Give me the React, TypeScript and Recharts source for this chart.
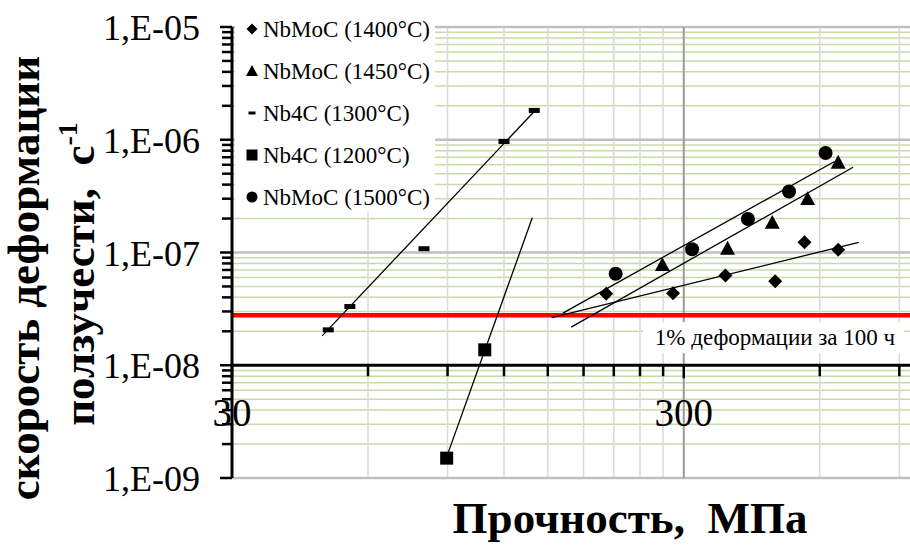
import React from 'react';
import { ScatterChart, Scatter, XAxis, YAxis, ReferenceLine, Legend } from 'recharts';

const SERIF = "'Liberation Serif', 'Times New Roman', Times, serif";

// ---- data ----
const nbmoc1400 = [
  { x: 202, y: 4.3e-8 },
  { x: 284, y: 4.36e-8 },
  { x: 371, y: 6.25e-8 },
  { x: 478, y: 5.57e-8 },
  { x: 555, y: 1.23e-7 },
  { x: 659, y: 1.06e-7 },
];
const nbmoc1450 = [
  { x: 269, y: 7.8e-8 },
  { x: 375, y: 1.09e-7 },
  { x: 471, y: 1.85e-7 },
  { x: 564, y: 3.0e-7 },
  { x: 659, y: 6.3e-7 },
];
const nb4c1300 = [
  { x: 49, y: 2.06e-8 },
  { x: 54.7, y: 3.32e-8 },
  { x: 79.8, y: 1.08e-7 },
  { x: 120, y: 9.66e-7 },
  { x: 140, y: 1.82e-6 },
];
const nb4c1200 = [
  { x: 89.6, y: 1.5e-9 },
  { x: 108.8, y: 1.37e-8 },
];
const nbmoc1500 = [
  { x: 212, y: 6.47e-8 },
  { x: 313, y: 1.07e-7 },
  { x: 416, y: 1.98e-7 },
  { x: 513, y: 3.48e-7 },
  { x: 618, y: 7.62e-7 },
];

// trend line end points
const fit1400 = [{ x: 153, y: 2.65e-8 }, { x: 732, y: 1.23e-7 }];
const fit1450 = [{ x: 169, y: 2.18e-8 }, { x: 711, y: 5.7e-7 }];
const fit1300 = [{ x: 47.5, y: 1.82e-8 }, { x: 140.5, y: 1.81e-6 }];
const fit1200 = [{ x: 89.4, y: 1.5e-9 }, { x: 138.6, y: 2.03e-7 }];
const fit1500 = [{ x: 162, y: 2.9e-8 }, { x: 647, y: 6.42e-7 }];

const LIMIT_RATE = 2.78e-8;
const LIMIT_TEXT = '1% деформации за 100 ч';

// ---- axes ----
const X_DOMAIN = [30, 1000];
const Y_DOMAIN = [1e-9, 1e-5];
const X_MAJOR = [30, 300];
const X_MAJOR_LABELS = ['30', '300'];
const X_MINOR = [60, 90, 120, 150, 180, 210, 240, 270, 600, 900];
const Y_MAJOR = [1e-9, 1e-8, 1e-7, 1e-6, 1e-5];
const Y_MAJOR_LABELS = ['1,E-09', '1,E-08', '1,E-07', '1,E-06', '1,E-05'];
const Y_MINOR = [
  2e-9, 3e-9, 4e-9, 5e-9, 6e-9, 7e-9, 8e-9, 9e-9,
  2e-8, 3e-8, 4e-8, 5e-8, 6e-8, 7e-8, 8e-8, 9e-8,
  2e-7, 3e-7, 4e-7, 5e-7, 6e-7, 7e-7, 8e-7, 9e-7,
  2e-6, 3e-6, 4e-6, 5e-6, 6e-6, 7e-6, 8e-6, 9e-6,
];
const X_CROSS = 1e-8; // horizontal axis crosses here

const X_TITLE = 'Прочность,  МПа';
const Y_TITLE_1 = 'скорость деформации';
const Y_TITLE_2 = 'ползучести,  с';
const Y_TITLE_SUP = '-1';

// ---- layout ----
const CHART_W = 920;
const CHART_H = 546;
const MARGIN = { top: 27, right: 0, bottom: 0, left: 0 };
const XAXIS_H = 68;
const YAXIS_W = 232;
const PLOT_H = CHART_H - MARGIN.top - MARGIN.bottom - XAXIS_H;
const CROSS_SHIFT =
  (PLOT_H * (Math.log10(X_CROSS) - Math.log10(Y_DOMAIN[0]))) /
  (Math.log10(Y_DOMAIN[1]) - Math.log10(Y_DOMAIN[0]));

const X_TICKS = [...X_MAJOR, ...X_MINOR].sort((a, b) => a - b);
const Y_TICKS = [...Y_MAJOR, ...Y_MINOR].sort((a, b) => a - b);

// ---- markers ----
const Diamond = ({ cx, cy, s = 7 }: any) => (
  <polygon points={`${cx},${cy - s} ${cx + s},${cy} ${cx},${cy + s} ${cx - s},${cy}`} fill="#000" />
);
const Triangle = ({ cx, cy, s = 7.5 }: any) => (
  <polygon points={`${cx},${cy - s} ${cx + s},${cy + s * 0.85} ${cx - s},${cy + s * 0.85}`} fill="#000" />
);
const Dash = ({ cx, cy, w = 11, h = 5 }: any) => (
  <rect x={cx - w / 2} y={cy - h / 2} width={w} height={h} fill="#000" />
);
const Square = ({ cx, cy, s = 13 }: any) => (
  <rect x={cx - s / 2} y={cy - s / 2} width={s} height={s} fill="#000" />
);
const Circle = ({ cx, cy, r = 7 }: any) => <circle cx={cx} cy={cy} r={r} fill="#000" />;
const Empty = () => <g />;

const SERIES = [
  { name: 'NbMoC (1400°C)', data: nbmoc1400, fit: fit1400, Marker: Diamond, lp: { s: 5.5 } },
  { name: 'NbMoC (1450°C)', data: nbmoc1450, fit: fit1450, Marker: Triangle, lp: { s: 6 } },
  { name: 'Nb4C (1300°C)', data: nb4c1300, fit: fit1300, Marker: Dash, lp: { w: 7, h: 3 } },
  { name: 'Nb4C (1200°C)', data: nb4c1200, fit: fit1200, Marker: Square, lp: { s: 11 } },
  { name: 'NbMoC (1500°C)', data: nbmoc1500, fit: fit1500, Marker: Circle, lp: { r: 5.5 } },
];

// ---- ticks ----
const XTick = (props: any) => {
  const { x, y, payload } = props;
  const ay = y - CROSS_SHIFT;
  const idx = X_MAJOR.indexOf(payload.value);
  const major = idx >= 0;
  return (
    <g>
      <line x1={x} x2={x} y1={ay} y2={ay + (major ? 13 : 11)} stroke="#000" strokeWidth={2.5} />
      {major && (
        <text x={x} y={ay + 47} textAnchor="middle" dominantBaseline="central" fontFamily={SERIF} fontSize={39} fill="#000">
          {X_MAJOR_LABELS[idx]}
        </text>
      )}
    </g>
  );
};

const YTick = (props: any) => {
  const { x, y, payload } = props;
  const idx = Y_MAJOR.indexOf(payload.value);
  const major = idx >= 0;
  return (
    <g>
      <line x1={x - (major ? 12 : 10)} x2={x} y1={y} y2={y} stroke="#000" strokeWidth={2.5} />
      {major && (
        <text x={x - 32} y={y + 1} textAnchor="end" dominantBaseline="central" fontFamily={SERIF} fontSize={36} fill="#000">
          {Y_MAJOR_LABELS[idx]}
        </text>
      )}
    </g>
  );
};

const YTitle = () => (
  <g>
    <text transform="translate(39,278) rotate(-90)" textAnchor="middle" fontFamily={SERIF} fontWeight="bold" fontSize={45} fill="#000" style={{ whiteSpace: 'pre' }}>
      {Y_TITLE_1}
    </text>
    <text transform="translate(94,274) rotate(-90)" textAnchor="middle" fontFamily={SERIF} fontWeight="bold" fontSize={45} fill="#000" style={{ whiteSpace: 'pre' }}>
      {Y_TITLE_2}
      <tspan dy={-17} fontSize={28}>{Y_TITLE_SUP}</tspan>
    </text>
  </g>
);

const XTitle = () => (
  <text x={630} y={533} textAnchor="middle" fontFamily={SERIF} fontWeight="bold" fontSize={45} fill="#000" style={{ whiteSpace: 'pre' }}>
    {X_TITLE}
  </text>
);

const LimitLabel = (props: any) => {
  const vb = props.viewBox || {};
  const x0 = vb.x ?? 232;
  const y0 = vb.y ?? 315;
  return (
    <g>
      <rect x={x0 + 411} y={y0 + 7} width={261} height={31} fill="#fff" />
      <text x={x0 + 543} y={y0 + 22} textAnchor="middle" dominantBaseline="central" fontFamily={SERIF} fontSize={23} fill="#000">
        {LIMIT_TEXT}
      </text>
    </g>
  );
};

const LegendBox = () => (
  <svg width={200} height={204} style={{ display: 'block' }}>
    {SERIES.map((s, i) => {
      const cy = 21 + i * 42;
      const M = s.Marker;
      return (
        <g key={s.name}>
          <M cx={17} cy={cy} {...s.lp} />
          <text x={28} y={cy} dominantBaseline="central" fontFamily={SERIF} fontSize={23} fill="#000">
            {s.name}
          </text>
        </g>
      );
    })}
  </svg>
);

export default function App() {
  return (
    <div style={{ position: 'absolute', left: 0, top: 0, width: 910, height: 546, overflow: 'hidden', background: '#fff' }}>
      <ScatterChart width={CHART_W} height={CHART_H} margin={MARGIN}>
        <XAxis
          type="number"
          dataKey="x"
          scale="log"
          domain={X_DOMAIN}
          allowDataOverflow
          ticks={X_TICKS}
          interval={0}
          height={XAXIS_H}
          axisLine={false}
          tickLine={false}
          tickSize={0}
          tickMargin={0}
          tick={<XTick />}
          label={<XTitle />}
        />
        <YAxis
          type="number"
          dataKey="y"
          scale="log"
          domain={Y_DOMAIN}
          allowDataOverflow
          ticks={Y_TICKS}
          interval={0}
          width={YAXIS_W}
          axisLine={{ stroke: '#000', strokeWidth: 3 }}
          tickLine={false}
          tickSize={0}
          tickMargin={0}
          tick={<YTick />}
          label={<YTitle />}
        />
        {Y_MINOR.map((v) => (
          <ReferenceLine key={`ym${v}`} y={v} stroke="#c9dba6" strokeWidth={1.5} zIndex={-90} />
        ))}
        {X_MINOR.map((v) => (
          <ReferenceLine key={`xm${v}`} x={v} stroke="#dadada" strokeWidth={1.5} zIndex={-90} />
        ))}
        {Y_MAJOR.filter((v) => v !== X_CROSS).map((v) => (
          <ReferenceLine key={`yM${v}`} y={v} stroke="#c0c0c0" strokeWidth={2.5} zIndex={-85} />
        ))}
        {X_MAJOR.filter((v) => v !== X_DOMAIN[0]).map((v) => (
          <ReferenceLine key={`xM${v}`} x={v} stroke="#9a9a9a" strokeWidth={2} zIndex={-85} />
        ))}
        <ReferenceLine y={LIMIT_RATE} stroke="#ff0000" strokeWidth={4.5} label={<LimitLabel />} />
        <ReferenceLine y={X_CROSS} stroke="#000" strokeWidth={3} />
        {SERIES.map((s) => (
          <Scatter
            key={`fit-${s.name}`}
            data={s.fit}
            line={{ stroke: '#000', strokeWidth: 1.3 }}
            shape={Empty}
            legendType="none"
            isAnimationActive={false}
          />
        ))}
        {SERIES.map((s) => (
          <Scatter
            key={s.name}
            name={s.name}
            data={s.data}
            fill="#000"
            shape={(p: any) => <s.Marker cx={p.cx} cy={p.cy} />}
            isAnimationActive={false}
          />
        ))}
        <Legend
          layout="vertical"
          align="center"
          verticalAlign="middle"
          wrapperStyle={{ position: 'absolute', left: 235, top: 8, width: 200, height: 204, background: '#fff', margin: 0, padding: 0 }}
          content={() => <LegendBox />}
        />
      </ScatterChart>
    </div>
  );
}
